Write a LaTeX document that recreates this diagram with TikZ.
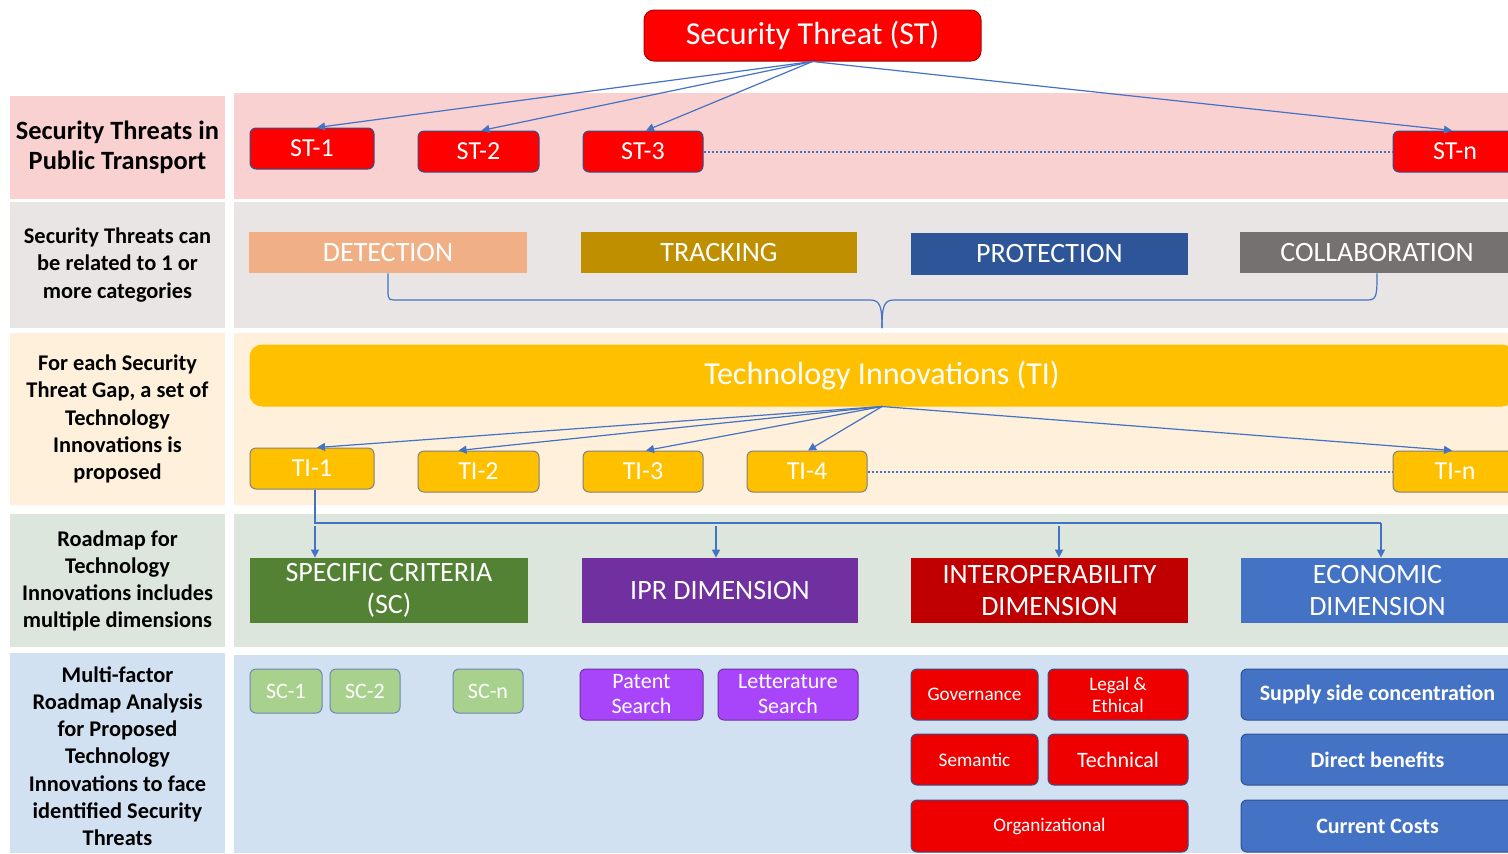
\documentclass[tikz,border=0pt]{standalone}
\usepackage{fontspec}
\setmainfont{Carlito}
\usetikzlibrary{arrows.meta,calc}
\definecolor{pinkbg}{HTML}{F9D1D1}
\definecolor{graybg}{HTML}{E9E5E4}
\definecolor{creambg}{HTML}{FEF0DA}
\definecolor{greenbg}{HTML}{DCE6DC}
\definecolor{bluebg}{HTML}{D1E1F1}
\definecolor{stred}{HTML}{FF0000}
\definecolor{detc}{HTML}{F1AF86}
\definecolor{trackc}{HTML}{BF8F00}
\definecolor{protc}{HTML}{2E5597}
\definecolor{collc}{HTML}{767171}
\definecolor{tiy}{HTML}{FFC000}
\definecolor{scg}{HTML}{548235}
\definecolor{iprp}{HTML}{7030A0}
\definecolor{intr}{HTML}{C00000}
\definecolor{econb}{HTML}{4472C4}
\definecolor{scl}{HTML}{A9D18E}
\definecolor{patp}{HTML}{A845FB}
\definecolor{redb}{HTML}{EE0000}
\definecolor{conn}{HTML}{4472C4}
\definecolor{bord}{HTML}{2F528F}
\begin{document}
\begin{tikzpicture}[x=0.5pt,y=-0.5pt,
  wh/.style 2 args={minimum width={#1*0.5pt},minimum height={#2*0.5pt}},
  base/.style={inner sep=0pt,align=center,text=white},
  rbox/.style={base,rounded corners=3pt,draw=bord,line width=0.5pt},
  sbox/.style={base,draw=none},
  lab/.style={inner sep=0pt,align=center,text=black,font=\fontsize{11.2}{13.6}\selectfont\bfseries},
  bg/.style={draw=none},
  arr/.style={draw=conn,line width=0.6pt,-{Triangle[length=4pt,width=4pt]}},
  line/.style={draw=conn,line width=0.6pt},
  dotline/.style={draw=conn,line width=1pt,dash pattern=on 1pt off 1pt},
  stfont/.style={font=\fontsize{13}{15}\selectfont},
  catfont/.style={font=\fontsize{14}{16}\selectfont},
  smfont/.style={font=\fontsize{11}{12.5}\selectfont},
  tnfont/.style={font=\fontsize{9.6}{11}\selectfont},
  bfont/.style={font=\fontsize{11}{13}\selectfont\bfseries}
]
\useasboundingbox (0,0) rectangle (1508,853);
\clip (0,0) rectangle (1508,853);
\fill[white] (0,0) rectangle (1508,853);
% backgrounds
\fill[pinkbg] (10,96) rectangle (225,199);
\fill[pinkbg] (234,93) rectangle (1508,199);
\fill[graybg] (10,202) rectangle (225,328);
\fill[graybg] (234,202) rectangle (1508,328);
\fill[creambg] (10,333) rectangle (225,505);
\fill[creambg] (234,333) rectangle (1508,505);
\fill[greenbg] (10,514) rectangle (225,647);
\fill[greenbg] (234,514) rectangle (1508,647);
\fill[bluebg] (10,653) rectangle (225,853);
\fill[bluebg] (234,655) rectangle (1508,853);
% left labels
\node[lab,font=\fontsize{13.2}{15}\selectfont\bfseries] (l1) at (117.5,147.5) {Security Threats in\\Public Transport};
\node[lab] (l2) at (117.5,265) {Security Threats can\\be related to 1 or\\more categories};
\node[lab] (l3) at (117.5,419) {For each Security\\Threat Gap, a set of\\Technology\\Innovations is\\proposed};
\node[lab] (l4) at (117.5,581) {Roadmap for\\Technology\\Innovations includes\\multiple dimensions};
\node[lab] (l5) at (117.5,756) {Multi-factor\\Roadmap Analysis\\for Proposed\\Technology\\Innovations to face\\identified Security\\Threats};
% row 1
\node[rbox,fill=stred,draw=stred!70!black,wh={337}{51},rounded corners=5pt,font=\fontsize{16}{18}\selectfont] (st) at (812.5,35.5) {Security Threat (ST)};
\node[rbox,fill=stred,wh={124}{41},stfont] (st1) at (312,148.5) {ST-1};
\node[rbox,fill=stred,wh={121}{41},stfont] (st2) at (478.5,151.5) {ST-2};
\node[rbox,fill=stred,wh={120}{41},stfont] (st3) at (643,151.5) {ST-3};
\node[rbox,fill=stred,wh={124}{41},stfont] (stn) at (1455,151.5) {ST-n};
\draw[arr] (st.south) -- ($(st1.north)+(5,0)$);
\draw[arr] (st.south) -- ($(st2.north)+(3,0)$);
\draw[arr] (st.south) -- ($(st3.north)+(3,0)$);
\draw[arr] (st.south) -- ($(stn.north)+(-3,0)$);
\draw[dotline] (st3.east) -- (stn.west);
% row 2
\node[sbox,fill=detc,wh={278}{41},catfont] (det) at (388,252.5) {DETECTION};
\node[sbox,fill=trackc,wh={276}{41},catfont] (trk) at (719,252.5) {TRACKING};
\node[sbox,fill=protc,wh={277}{42},catfont] (prot) at (1049.5,254) {PROTECTION};
\node[sbox,fill=collc,wh={274}{41},catfont] (coll) at (1377,252.5) {COLLABORATION};
\coordinate (tip) at (882,328);
\draw[line] (det.south) -- ++(0,19) .. controls +(0,8) and (390,300) .. (398,300) -- (870,300)
  .. controls (880,300) and (882,306) .. (tip);
\draw[line] (tip) .. controls (882,306) and (884,300) .. (894,300) -- (1368,300)
  .. controls (1377,300) and (1377,294) .. (coll.south);
% row 3
\node[rbox,fill=tiy,draw=tiy,wh={1264}{61},rounded corners=6pt,font=\fontsize{16}{18}\selectfont] (ti) at (882,375.5) {Technology Innovations (TI)};
\node[rbox,fill=tiy,draw=gray,wh={124}{41},stfont] (ti1) at (312,468.5) {TI-1};
\node[rbox,fill=tiy,draw=gray,wh={121}{41},stfont] (ti2) at (478.5,471.5) {TI-2};
\node[rbox,fill=tiy,draw=gray,wh={120}{41},stfont] (ti3) at (643,471.5) {TI-3};
\node[rbox,fill=tiy,draw=gray,wh={120}{41},stfont] (ti4) at (807,471.5) {TI-4};
\node[rbox,fill=tiy,draw=gray,wh={124}{41},stfont] (tin) at (1455,471.5) {TI-n};
\draw[arr] (ti.south) -- ($(ti1.north)+(5,0)$);
\draw[arr] (ti.south) -- ($(ti2.north)+(-20,0)$);
\draw[arr] (ti.south) -- ($(ti3.north)+(3,0)$);
\draw[arr] (ti.south) -- ($(ti4.north)+(1,0)$);
\draw[arr] (ti.south) -- ($(tin.north)+(-3,0)$);
\draw[dotline] (ti4.east) -- (tin.west);
% row 4
\node[sbox,fill=scg,wh={278}{65},catfont] (sc) at (389,590.5) {SPECIFIC CRITERIA\\(SC)};
\node[sbox,fill=iprp,wh={276}{65},catfont] (ipr) at (720,590.5) {IPR DIMENSION};
\node[sbox,fill=intr,wh={277}{65},catfont] (iop) at (1049.5,590.5) {INTEROPERABILITY\\DIMENSION};
\node[sbox,fill=econb,wh={273}{65},catfont] (eco) at (1377.5,590.5) {ECONOMIC\\DIMENSION};
\coordinate (bR) at (1381,523);
\coordinate (b1) at (315,526);
\coordinate (b2) at (716,526);
\coordinate (b3) at (1059,526);
\draw[line] ($(ti1.south)+(3,0)$) |- (bR);
\draw[arr] (bR) -- (bR |- eco.north);
\draw[arr] (b1) -- (b1 |- sc.north);
\draw[arr] (b2) -- (b2 |- ipr.north);
\draw[arr] (b3) -- (b3 |- iop.north);
% row 5
\node[rbox,fill=scl,draw=bord!70,wh={72}{44},smfont] (sc1) at (286,691) {SC-1};
\node[rbox,fill=scl,draw=bord!70,wh={70}{44},smfont] (sc2) at (365,691) {SC-2};
\node[rbox,fill=scl,draw=bord!70,wh={70}{44},smfont] (scn) at (488,691) {SC-n};
\node[rbox,fill=patp,draw=iprp,wh={123}{51},smfont] (pat) at (641.5,694.5) {Patent\\Search};
\node[rbox,fill=patp,draw=iprp,wh={140}{51},smfont] (let) at (788,694.5) {Letterature\\Search};
\node[rbox,fill=redb,wh={127}{51},tnfont] (gov) at (974.5,694.5) {Governance};
\node[rbox,fill=redb,wh={140}{51},tnfont] (leg) at (1118,694.5) {Legal \&\\Ethical};
\node[rbox,fill=redb,wh={127}{51},tnfont] (sem) at (974.5,759.5) {Semantic};
\node[rbox,fill=redb,wh={140}{51},smfont] (tec) at (1118,759.5) {Technical};
\node[rbox,fill=redb,wh={277}{52},tnfont] (org) at (1049.5,826) {Organizational};
\node[rbox,fill=econb,wh={273}{51},bfont] (sup) at (1377.5,694.5) {Supply side concentration};
\node[rbox,fill=econb,wh={273}{51},bfont] (dir) at (1377.5,759.5) {Direct benefits};
\node[rbox,fill=econb,wh={273}{52},bfont] (cur) at (1377.5,826) {Current Costs};
\end{tikzpicture}
\end{document}
